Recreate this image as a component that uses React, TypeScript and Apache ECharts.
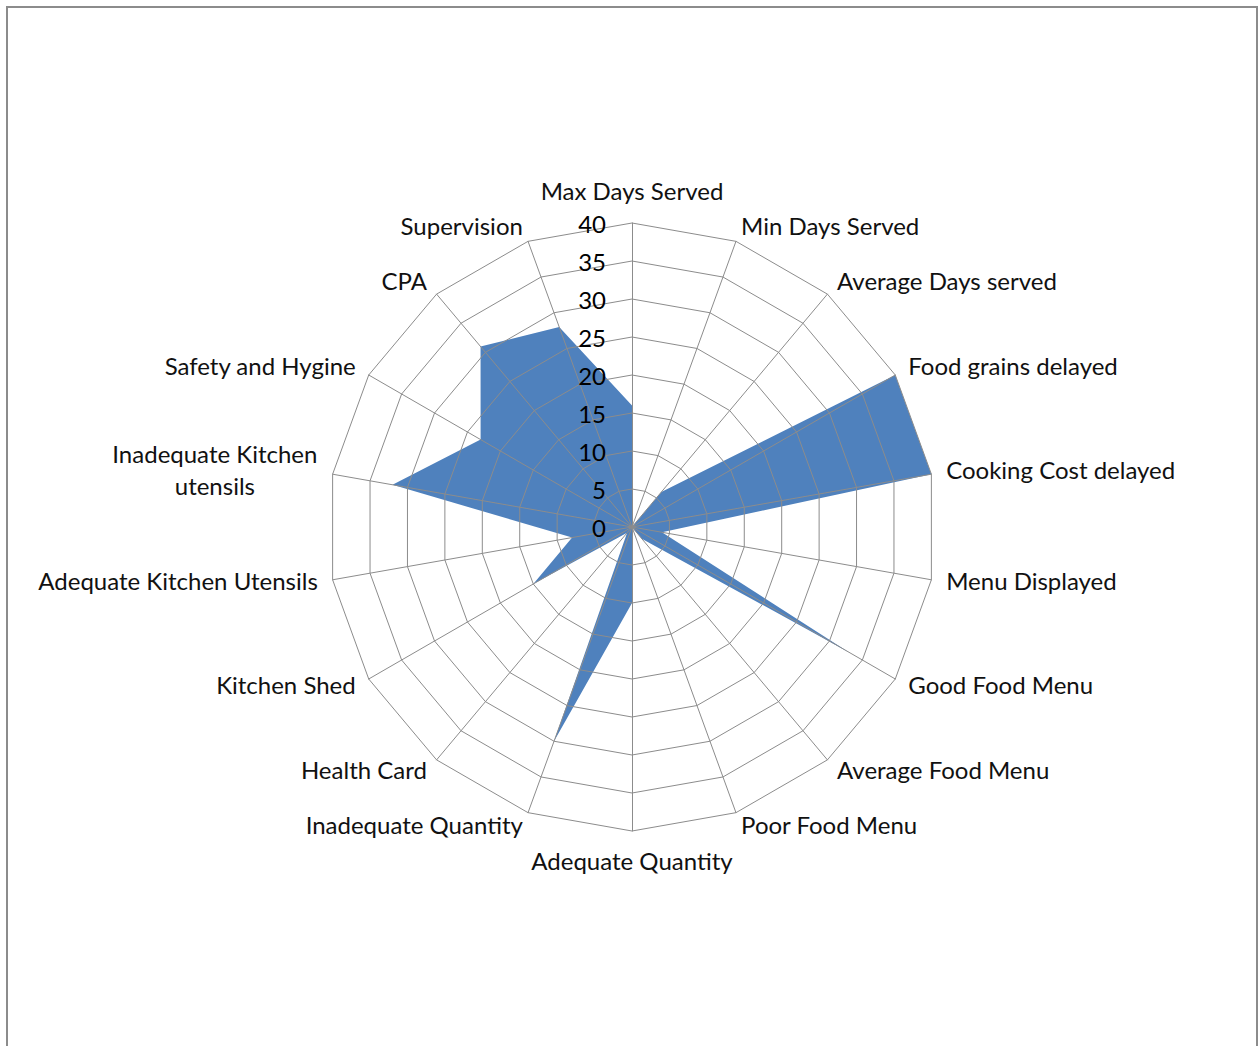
import React, { useEffect, useRef } from "react";
import * as echarts from "echarts";

// Categories in clockwise order, starting at the top
const categories = [
  "Max Days Served",
  "Min Days Served",
  "Average Days served",
  "Food grains delayed",
  "Cooking Cost delayed",
  "Menu Displayed",
  "Good Food Menu",
  "Average Food Menu",
  "Poor Food Menu",
  "Adequate Quantity",
  "Inadequate Quantity",
  "Health Card",
  "Kitchen Shed",
  "Adequate Kitchen Utensils",
  "Inadequate Kitchen\nutensils",
  "Safety and Hygine",
  "CPA",
  "Supervision",
];

const values = [16, 0, 6, 40, 40, 4, 33, 2, 0, 10, 30, 1, 15, 8, 32, 23, 31, 28];

const axisMax = 40;
const axisSplits = 8;

const FONT = "Lato, 'Open Sans', sans-serif";

export default function App() {
  const ref = useRef<HTMLDivElement>(null);
  useEffect(() => {
    if (!ref.current) return;
    const chart = echarts.init(ref.current, null, { renderer: "svg" });
    // ECharts radar runs counter-clockwise; reorder so it reads clockwise
    const order = categories.map((_, i) => (i === 0 ? 0 : categories.length - i));
    const indicator = order.map((idx, i) => {
      const base: any = { name: categories[idx], min: 0, max: axisMax };
      if (i === 0) {
        base.axisLabel = {
          show: true,
          color: "#000",
          fontSize: 24,
          fontFamily: FONT,
          margin: 26,
        };
      }
      return base;
    });
    const orderedValues = order.map((idx) => values[idx]);
    chart.setOption({
      animation: false,
      backgroundColor: "#fff",
      graphic: [
        {
          type: "rect",
          shape: { x: 7, y: 7, width: 1250, height: 1060 },
          style: { fill: "none", stroke: "#8c8c8c", lineWidth: 2 },
          silent: true,
        },
      ],
      radar: {
        center: [632, 527],
        radius: 304,
        startAngle: 90,
        shape: "polygon",
        splitNumber: axisSplits,
        indicator,
        axisName: {
          color: "#111",
          fontSize: 24,
          fontFamily: FONT,
          padding: [2, 0, 6, 0],
          formatter: (v: string) =>
            v.indexOf("\n") >= 0
              ? v
                  .split("\n")
                  .map((s) => "{c|" + s + "}")
                  .join("\n")
              : v,
          rich: {
            c: {
              width: 206,
              align: "center",
              fontSize: 24,
              fontFamily: FONT,
              color: "#111",
              lineHeight: 32,
            },
          },
        },
        nameGap: 15,
        axisLine: { lineStyle: { color: "#8c8c8c", width: 1 } },
        splitLine: { lineStyle: { color: "#8c8c8c", width: 1 } },
        splitArea: { show: false },
        axisTick: { show: false },
        axisLabel: { show: false },
        z: 3,
      },
      series: [
        {
          type: "radar",
          z: 1,
          symbol: "none",
          lineStyle: { width: 0 },
          areaStyle: { color: "#4f81bd", opacity: 1 },
          data: [{ value: orderedValues }],
        },
      ],
    });
    return () => chart.dispose();
  }, []);
  return (
    <div
      ref={ref}
      style={{ position: "fixed", left: 0, top: 0, width: 1260, height: 1046 }}
    />
  );
}
